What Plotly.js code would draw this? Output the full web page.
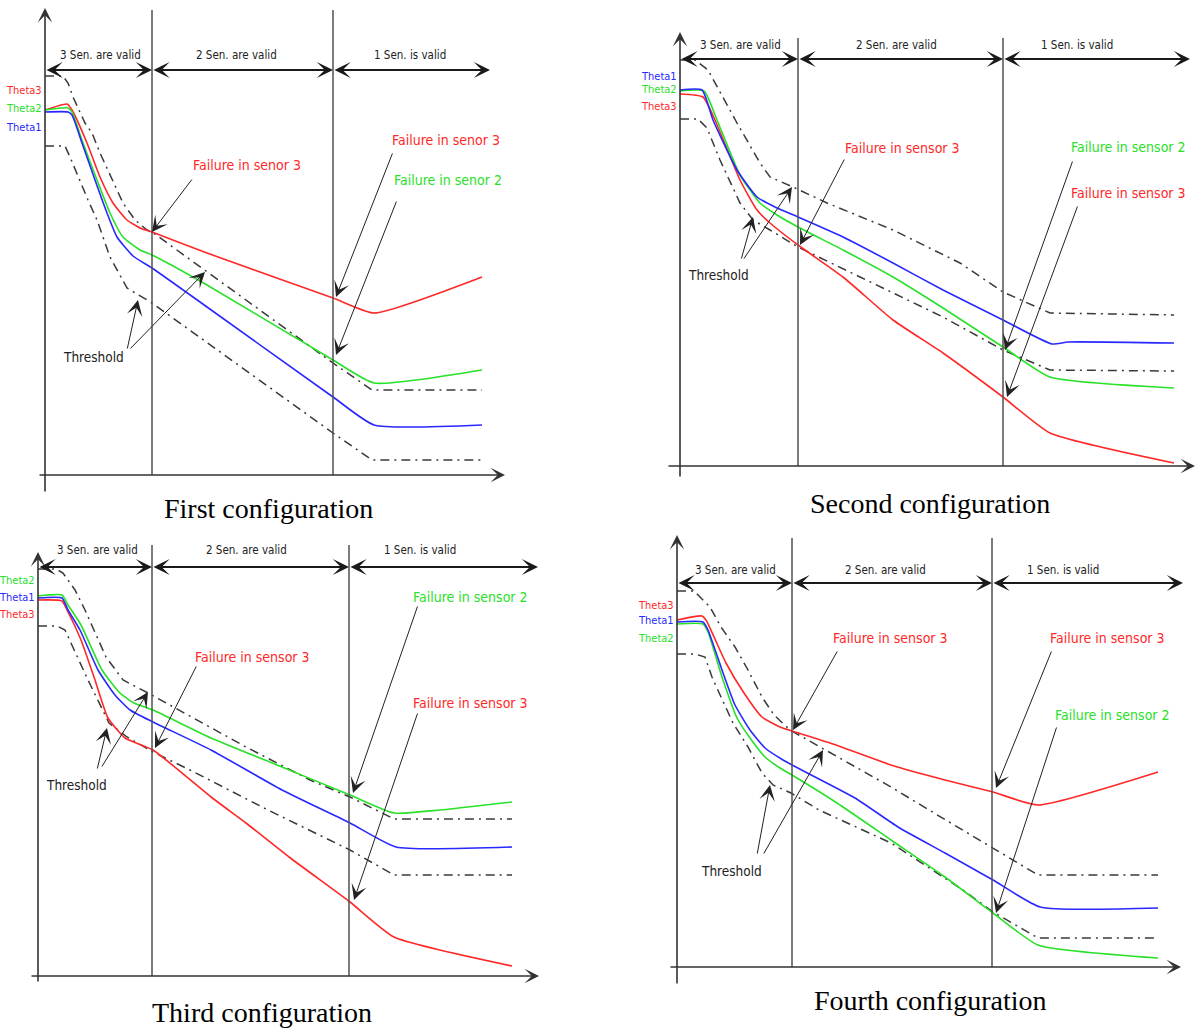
<!DOCTYPE html>
<html><head><meta charset="utf-8">
<script src="https://cdn.plot.ly/plotly-3.0.1.min.js"></script>
<style>html,body{margin:0;padding:0;background:#fff}#chart{width:1204px;height:1030px}</style>
</head><body><div id="chart"></div>
<script>
// ---------------- DATA (time t, value v in chart units; origin at the axes corner) ----------------
// First configuration
const p1_theta3_t = [0,22,27,42,55,68,82,95,107,162,288,329,437];
const p1_theta3_v = [365,371,365,332,298,272,255,247,243,222,177,162,198];
const p1_theta2_t = [0,23,27,38,52,65,78,95,107,162,288,329,437];
const p1_theta2_v = [365,367,363,332,295,262,238,225,220,190,115,92,105];
const p1_theta1_t = [0,23,27,37,50,62,72,88,107,162,288,329,437];
const p1_theta1_v = [363,363,360,332,295,262,238,219,207,168,78,50,50];
const p1_upper_t  = [0,18,23,28,40,47,55,67,78,90,102,107,288,327,437];
const p1_upper_v  = [399,399,392,378,352,342,322,295,272,255,245,243,112,85,85];
const p1_lower_t  = [0,20,25,33,43,52,65,82,98,107,288,327,437];
const p1_lower_v  = [329,329,318,298,275,255,218,187,177,172,42,15,15];
const p1_phases   = [0,107,288,445];

// Second configuration
const p2_theta3_t = [0,23,35,60,77,90,118,163,213,263,323,370,494];
const p2_theta3_v = [372,369,346,286,256,243,221,189,146,113,69,33,3];
const p2_theta2_t = [0,24,37,60,80,97,118,163,213,263,323,370,494];
const p2_theta2_v = [375,375,346,291,263,251,239,216,189,158,119,89,78];
const p2_theta1_t = [0,22,33,57,77,97,118,163,213,263,323,372,388,494];
const p2_theta1_v = [376,376,346,296,269,258,249,229,203,176,146,122,124,123];
const p2_upper_t  = [0,15,28,38,48,57,80,90,113,147,213,280,323,370,494];
const p2_upper_v  = [406,406,396,378,359,343,303,289,279,263,236,203,174,153,151];
const p2_lower_t  = [0,18,27,40,60,73,90,107,118,180,263,323,370,494];
const p2_lower_v  = [347,347,338,306,263,246,236,226,219,189,149,116,96,95];
const p2_phases   = [0,118,323,510];

// Third configuration
const p3_theta2_t = [0,24,30,43,64,82,96,115,173,244,312,356,402,474];
const p3_theta2_v = [380,381,371,351,306,283,273,266,238,209,181,163,166,174];
const p3_theta1_t = [0,24,30,42,60,77,92,115,173,244,312,358,474];
const p3_theta1_v = [378,378,366,346,306,281,266,254,226,186,153,129,129];
const p3_theta3_t = [0,24,30,43,57,70,87,115,173,208,251,312,356,474];
const p3_theta3_v = [376,375,364,336,296,258,238,226,179,153,119,74,39,10];
const p3_upper_t  = [0,18,25,37,47,68,85,110,208,272,312,356,474];
const p3_upper_v  = [407,407,403,386,366,319,296,283,229,196,179,157,157];
const p3_lower_t  = [0,19,27,36,50,71,89,115,152,230,312,356,474];
const p3_lower_v  = [350,350,346,326,296,253,239,224,206,166,126,101,101];
const p3_phases   = [0,114,311,500];

// Fourth configuration
const p4_theta3_t = [0,25,29,49,67,85,103,115,153,214,268,316,361,481];
const p4_theta3_v = [347,351,347,304,274,250,240,236,224,202,187,175,162,195];
const p4_theta1_t = [0,26,31,45,58,73,88,106,115,178,221,268,316,363,481];
const p4_theta1_v = [345,345,337,297,262,237,219,207,202,169,140,114,87,60,59];
const p4_theta2_t = [0,26,31,45,60,73,88,103,115,160,214,268,316,361,481];
const p4_theta2_v = [343,343,335,290,249,229,210,199,192,164,127,90,54,22,9];
const p4_upper_t  = [0,17,33,44,58,71,85,97,113,148,214,257,316,361,481];
const p4_upper_v  = [376,376,360,340,320,297,270,252,237,217,180,154,119,92,92];
const p4_lower_t  = [0,18,28,35,44,56,71,85,96,114,142,214,286,316,361,481];
const p4_lower_v  = [313,313,310,290,270,244,220,194,182,174,157,124,77,55,29,29];
const p4_phases   = [0,115,315,506];

const phaseLabels = ['3 Sen. are valid','2 Sen. are valid','1 Sen. is valid'];

// ---------------- STYLE ----------------
const W = 1204, H = 1030;
const RED = 'rgb(255,40,40)', GREEN = 'rgb(40,225,40)', BLUE = 'rgb(40,40,255)';
const THR = '#3a3a3a', AX = '#505050';
const NARROW = '"Liberation Sans Narrow","Arial Narrow","DejaVu Sans Condensed",sans-serif';
const SERIF = '"Liberation Serif","Times New Roman",serif';

const panels = [
  { title:'First configuration', box:[0,560,0,528], origin:[45,475], phases:p1_phases,
    series:[[p1_theta3_t,p1_theta3_v,RED],[p1_theta2_t,p1_theta2_v,GREEN],[p1_theta1_t,p1_theta1_v,BLUE]],
    upper:[p1_upper_t,p1_upper_v], lower:[p1_lower_t,p1_lower_v],
    vTop:465, row:405, labelV:420, labelX:[55,191,365], yAxis:[-18,467], xAxis:[-7,460], titlePos:[223,-33],
    thetas:[['Theta3',385,RED],['Theta2',367,GREEN],['Theta1',348,BLUE]],
    notes:[['Failure in senor 3',202,310,RED,[[148,297,107,243]]],
           ['Failure in senor 3',401,335,RED,[[348,323,291,178]]],
           ['Failure in senor 2',403,295,GREEN,[[352,275,291,120]]],
           ['Threshold',48,118,'#222',[[82,125,93,175],[84,125,160,203]]]] },
  { title:'Second configuration', box:[602,1204,0,528], origin:[680,466], phases:p2_phases,
    series:[[p2_theta3_t,p2_theta3_v,RED],[p2_theta2_t,p2_theta2_v,GREEN],[p2_theta1_t,p2_theta1_v,BLUE]],
    upper:[p2_upper_t,p2_upper_v], lower:[p2_lower_t,p2_lower_v],
    vTop:428, row:407, labelV:421, labelX:[60,216,397], yAxis:[-12,434], xAxis:[-13,515], titlePos:[250,-37],
    thetas:[['Theta1',390,BLUE],['Theta2',377,GREEN],['Theta3',360,RED]],
    notes:[['Failure in sensor 3',222,318,RED,[[165,308,120,221]]],
           ['Failure in sensor 2',448,319,GREEN,[[393,306,325,116]]],
           ['Failure in sensor 3',448,273,RED,[[398,261,327,69]]],
           ['Threshold',38,191,'#222',[[61,206,73,249],[63,206,112,279]]]] },
  { title:'Third configuration', box:[0,560,528,1030], origin:[38,976], phases:p3_phases,
    series:[[p3_theta3_t,p3_theta3_v,RED],[p3_theta1_t,p3_theta1_v,BLUE],[p3_theta2_t,p3_theta2_v,GREEN]],
    upper:[p3_upper_t,p3_upper_v], lower:[p3_lower_t,p3_lower_v],
    vTop:431, row:409, labelV:426, labelX:[59,208,382], yAxis:[-7,424], xAxis:[-8,501], titlePos:[224,-36],
    thetas:[['Theta2',396,GREEN],['Theta1',379,BLUE],['Theta3',362,RED]],
    notes:[['Failure in sensor 3',214,319,RED,[[159,311,117,228]]],
           ['Failure in sensor 2',432,379,GREEN,[[380,371,315,183]]],
           ['Failure in sensor 3',432,273,RED,[[380,264,316,76]]],
           ['Threshold',38,191,'#222',[[59,206,69,248],[63,208,110,284]]]] },
  { title:'Fourth configuration', box:[602,1204,528,1030], origin:[677,967], phases:p4_phases,
    series:[[p4_theta2_t,p4_theta2_v,GREEN],[p4_theta1_t,p4_theta1_v,BLUE],[p4_theta3_t,p4_theta3_v,RED]],
    upper:[p4_upper_t,p4_upper_v], lower:[p4_lower_t,p4_lower_v],
    vTop:429, row:384, labelV:397, labelX:[58,208,386], yAxis:[-18,432], xAxis:[-8,504], titlePos:[253,-33],
    thetas:[['Theta3',362,RED],['Theta1',347,BLUE],['Theta2',329,GREEN]],
    notes:[['Failure in sensor 3',213,329,RED,[[161,317,116,237]]],
           ['Failure in sensor 3',430,329,RED,[[375,317,319,179]]],
           ['Failure in sensor 2',435,252,GREEN,[[380,241,319,54]]],
           ['Threshold',54,96,'#222',[[80,112,93,182],[86,112,146,217]]]] }
];

const traces = [], shapes = [], annotations = [];
const layout = {
  width:W, height:H, margin:{l:0,r:0,t:0,b:0}, paper_bgcolor:'#fff', plot_bgcolor:'rgba(0,0,0,0)',
  showlegend:false, hovermode:false
};

panels.forEach((p, i) => {
  const s = i === 0 ? '' : String(i + 1);
  const xr = 'x' + s, yr = 'y' + s;
  const [L, R, T, B] = p.box, [ox, oy] = p.origin;
  layout['xaxis' + s] = {domain:[L/W, R/W], range:[L-ox, R-ox], visible:false, fixedrange:true};
  layout['yaxis' + s] = {domain:[1-B/H, 1-T/H], range:[oy-B, oy-T], visible:false, fixedrange:true};

  const thrLine = {color:THR, width:1.5, dash:'9px,5px,2px,5px'};
  traces.push({type:'scatter', mode:'lines', x:p.upper[0], y:p.upper[1], xaxis:xr, yaxis:yr, line:thrLine, hoverinfo:'skip'});
  traces.push({type:'scatter', mode:'lines', x:p.lower[0], y:p.lower[1], xaxis:xr, yaxis:yr, line:thrLine, hoverinfo:'skip'});
  p.series.forEach(([t, v, c]) => {
    traces.push({type:'scatter', mode:'lines', x:t, y:v, xaxis:xr, yaxis:yr, line:{color:c, width:1.6, shape:'spline', smoothing:0.5}, hoverinfo:'skip'});
  });

  // phase boundary lines
  [p.phases[1], p.phases[2]].forEach(b => {
    shapes.push({type:'line', xref:xr, yref:yr, x0:b, x1:b, y0:0, y1:p.vTop, line:{color:AX, width:1.5}});
  });

  const arrow = (x0, y0, x1, y1, opts) => Object.assign({
    xref:xr, yref:yr, axref:xr, ayref:yr, x:x1, y:y1, ax:x0, ay:y0, text:'', showarrow:true,
    arrowcolor:'#222', standoff:0, startstandoff:0
  }, opts);

  // axes with arrow heads
  annotations.push(arrow(0, p.yAxis[0], 0, p.yAxis[1], {arrowhead:3, arrowsize:1.5, arrowwidth:1.6, arrowcolor:'#333'}));
  annotations.push(arrow(p.xAxis[0], 0, p.xAxis[1], 0, {arrowhead:3, arrowsize:1.5, arrowwidth:1.6, arrowcolor:'#333'}));

  // double arrows for validity phases
  for (let j = 0; j < 3; j++) {
    annotations.push(arrow(p.phases[j], p.row, p.phases[j+1], p.row,
      {arrowhead:3, startarrowhead:3, arrowside:'end+start', arrowsize:1.35, startarrowsize:1.35, arrowwidth:2, arrowcolor:'#1a1a1a'}));
    annotations.push({xref:xr, yref:yr, x:p.labelX[j], y:p.labelV, text:phaseLabels[j], showarrow:false,
      xanchor:'center', yanchor:'middle', font:{family:NARROW, size:11.5, color:'#222'}});
  }

  // theta labels
  p.thetas.forEach(([txt, v, c]) => {
    annotations.push({xref:xr, yref:yr, x:-1, y:v, text:txt, showarrow:false, xanchor:'right', yanchor:'middle',
      font:{family:NARROW, size:11, color:c}});
  });

  // notes with pointer arrows
  p.notes.forEach(([txt, x, y, c, ptrs]) => {
    annotations.push({xref:xr, yref:yr, x:x, y:y, text:txt, showarrow:false, xanchor:'center', yanchor:'middle',
      font:{family:NARROW, size: txt === 'Threshold' ? 13.5 : 14, color:c}});
    ptrs.forEach(([ax, ay, hx, hy]) => {
      annotations.push(arrow(ax, ay, hx, hy, {arrowhead:3, arrowsize:2.6, arrowwidth:1, arrowcolor:'#222'}));
    });
  });

  // panel title
  annotations.push({xref:xr, yref:yr, x:p.titlePos[0], y:p.titlePos[1], text:p.title, showarrow:false,
    xanchor:'center', yanchor:'middle', font:{family:SERIF, size:28, color:'#000'}});
});

layout.shapes = shapes;
layout.annotations = annotations;
Plotly.newPlot('chart', traces, layout, {staticPlot:true, displayModeBar:false});
</script>
</body></html>
